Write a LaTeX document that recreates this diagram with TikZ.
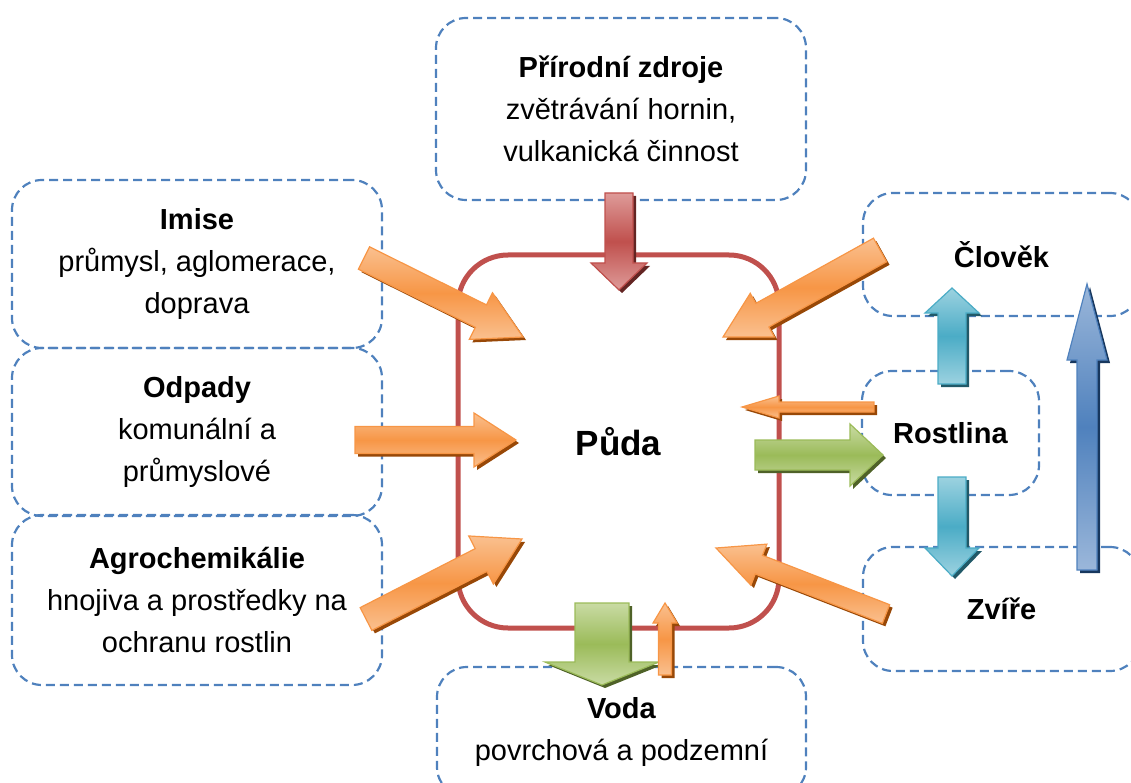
\documentclass[tikz,border=0pt]{standalone}
\usepackage{fontspec}
\setmainfont{Liberation Sans}
\usetikzlibrary{calc}

\definecolor{boxblue}{HTML}{4F81BD}
\definecolor{soilred}{HTML}{C0504D}
\definecolor{fluxor}{HTML}{F79646}
\definecolor{fluxorlight}{HTML}{FAC08F}
\definecolor{fluxordark}{HTML}{984807}
\definecolor{fluxred}{HTML}{C0504D}
\definecolor{fluxredlight}{HTML}{DE9B99}
\definecolor{fluxreddark}{HTML}{632523}
\definecolor{fluxgreen}{HTML}{9BBB59}
\definecolor{fluxgreenlight}{HTML}{C9DBA4}
\definecolor{fluxgreendark}{HTML}{4F6228}
\definecolor{fluxaqua}{HTML}{4BACC6}
\definecolor{fluxaqualight}{HTML}{9CD2E0}
\definecolor{fluxaquadark}{HTML}{215968}
\definecolor{fluxblue}{HTML}{4F81BD}
\definecolor{fluxbluelight}{HTML}{9BB7DA}
\definecolor{fluxbluedark}{HTML}{17375E}

\tikzset{
  srcbox/.style={draw=boxblue, line width=2.2pt, dash pattern=on 9pt off 5pt,
    rounded corners=30pt, inner sep=0pt, align=center,
    font=\fontsize{29}{42}\selectfont},
  soilbox/.style={draw=soilred, line width=5pt, rounded corners=50pt,
    inner sep=0pt, font=\fontsize{35}{42}\selectfont\bfseries},
}

% block arrow: tail, tip, half shaft, half head, head length, colour
\newcommand\fatarrow[6]{%
  \coordinate (neck) at ($(#2)!#5!(#1)$);
  \fill[#6dark, transform canvas={shift={(3pt,-3pt)}}]
    ($(#1)!#3!90:(#2)$) -- ($(neck)!#3!90:(#2)$) -- ($(neck)!#4!90:(#2)$) -- (#2)
    -- ($(neck)!#4!-90:(#2)$) -- ($(neck)!#3!-90:(#2)$) -- ($(#1)!#3!-90:(#2)$) -- cycle;
  \shadedraw[draw=#6, line width=1.2pt, top color=#6light, bottom color=#6light, middle color=#6]
    ($(#1)!#3!90:(#2)$) -- ($(neck)!#3!90:(#2)$) -- ($(neck)!#4!90:(#2)$) -- (#2)
    -- ($(neck)!#4!-90:(#2)$) -- ($(neck)!#3!-90:(#2)$) -- ($(#1)!#3!-90:(#2)$) -- cycle;
}

\begin{document}
\begin{tikzpicture}[x=1pt,y=-1pt]
  \useasboundingbox (0,0) rectangle (1131,783);

  % sources and receivers
  \node[srcbox, minimum width=370pt, minimum height=182pt] (zdroje) at (621,109)
    {\textbf{Přírodní zdroje}\\zvětrávání hornin,\\vulkanická činnost};
  \node[srcbox, minimum width=370pt, minimum height=168pt] (imise) at (197,264)
    {\textbf{Imise}\\průmysl, aglomerace,\\doprava};
  \node[srcbox, minimum width=370pt, minimum height=168pt] (odpady) at (197,432)
    {\textbf{Odpady}\\komunální a\\průmyslové};
  \node[srcbox, minimum width=370pt, minimum height=170pt] (agro) at (197,600)
    {\textbf{Agrochemikálie}\\hnojiva a prostředky na\\ochranu rostlin};
  \node[srcbox, minimum width=277pt, minimum height=123pt] (clovek) at (1001.5,254.5)
    {\textbf{Člověk}};
  \node[srcbox, minimum width=177pt, minimum height=124pt] (rostlina) at (950.5,433)
    {\textbf{Rostlina}};
  \node[srcbox, minimum width=277pt, minimum height=124pt] (zvire) at (1001.5,609)
    {\textbf{Zvíře}};
  \node[srcbox, minimum width=369pt, minimum height=130pt] (voda) at (621.5,732)
    {\textbf{Voda}\\povrchová a podzemní};

  % soil
  \node[soilbox, minimum width=321pt, minimum height=373pt] (puda) at (618.5,441.5) {Půda};

  % arrow ends
  \coordinate (zdroje-out) at (619,193);  \coordinate (zdroje-in) at (619,290);
  \coordinate (imise-out) at (364,258);   \coordinate (imise-in) at (523,337);
  \coordinate (odpady-out) at (355,440);  \coordinate (odpady-in) at (516,440);
  \coordinate (agro-out) at (366,619);    \coordinate (agro-in) at (522,539);
  \coordinate (clovek-out) at (880,250);  \coordinate (clovek-in) at (723,337);
  \coordinate (rostlina-out) at (874,407); \coordinate (rostlina-in) at (742,407);
  \coordinate (puda-out) at (755,455);    \coordinate (puda-to) at (883,455);
  \coordinate (zvire-out) at (886,614);   \coordinate (zvire-in) at (716,548);
  \coordinate (voda-from) at (602,603);   \coordinate (voda-to) at (602,685);
  \coordinate (voda-out) at (665,675);    \coordinate (voda-in) at (665,603);

  \fatarrow{zdroje-out}{zdroje-in}{14pt}{28pt}{27pt}{fluxred}
  \fatarrow{imise-out}{imise-in}{12.5pt}{26pt}{47pt}{fluxor}
  \fatarrow{odpady-out}{odpady-in}{13.5pt}{27pt}{42pt}{fluxor}
  \fatarrow{agro-out}{agro-in}{12.8pt}{27pt}{46pt}{fluxor}
  \fatarrow{clovek-out}{clovek-in}{13.5pt}{25pt}{45pt}{fluxor}
  \fatarrow{rostlina-out}{rostlina-in}{5pt}{11pt}{37pt}{fluxor}
  \fatarrow{puda-out}{puda-to}{15pt}{31pt}{33pt}{fluxgreen}
  \fatarrow{zvire-out}{zvire-in}{10pt}{22pt}{46pt}{fluxor}
  \fatarrow{voda-from}{voda-to}{27pt}{57pt}{23pt}{fluxgreen}
  \fatarrow{voda-out}{voda-in}{6.5pt}{12pt}{20pt}{fluxor}

  % food chain
  \coordinate (chain-up) at (952,384);    \coordinate (chain-top) at (952,288);
  \coordinate (chain-down) at (952,477);  \coordinate (chain-bottom) at (952,576);
  \coordinate (chain-foot) at (1087,570); \coordinate (chain-head) at (1087,284);
  \fatarrow{chain-up}{chain-top}{14pt}{27pt}{25pt}{fluxaqua}
  \fatarrow{chain-down}{chain-bottom}{14pt}{27pt}{28pt}{fluxaqua}
  \fatarrow{chain-foot}{chain-head}{10pt}{20pt}{76pt}{fluxblue}
\end{tikzpicture}
\end{document}
